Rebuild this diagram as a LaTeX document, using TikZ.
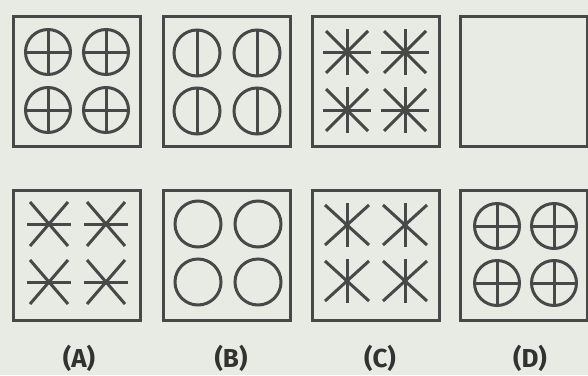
\documentclass[tikz,border=0pt]{standalone}
\usepackage{fontspec}
\newfontfamily\lblfont{Fira Sans}[UprightFont=*-Bold]
\definecolor{bg}{RGB}{232,235,228}
\definecolor{ink}{RGB}{72,72,72}
\definecolor{txt}{RGB}{50,50,50}
\begin{document}
\begin{tikzpicture}[x=1pt,y=-1pt,
  panel/.style={draw=ink,line width=3pt},
  stroke/.style={draw=ink,line width=3pt},
  lbl/.style={text=txt,font=\lblfont\fontsize{26}{30}\selectfont,inner sep=0pt}]
\fill[bg] (0,0) rectangle (588,375);
\useasboundingbox (0,0) rectangle (588,375);
% panels
\foreach \n/\x/\y in {p1/13/16,p2/163/16,p3/312/16,p4/460/16,pa/13/190,pb/163/190,pc/312/190,pd/460/190}{
  \draw[panel] (\x,\y) rectangle ++(127,130);
}
% panel 1: circles with cross
\foreach \cx/\cy in {48/52,106/52,48/110,106/110}{
  \draw[stroke] (\cx,\cy) circle (22.5);
  \draw[stroke] (\cx-22.5,\cy) -- (\cx+22.5,\cy);
  \draw[stroke] (\cx,\cy-22.5) -- (\cx,\cy+22.5);
}
% panel 2: circles with vertical line
\foreach \cx/\cy in {197/53,257/53,197/111,257/111}{
  \draw[stroke] (\cx,\cy) circle (23);
  \draw[stroke] (\cx,\cy-23) -- (\cx,\cy+23);
}
% panel 3: eight-spoke stars
\foreach \cx/\cy in {347/52,405/52,347/110,405/110}{
  \draw[stroke] (\cx-24,\cy) -- (\cx+24,\cy);
  \draw[stroke] (\cx,\cy-23) -- (\cx,\cy+23);
  \draw[stroke] (\cx-21,\cy-21) -- (\cx+21,\cy+21);
  \draw[stroke] (\cx-21,\cy+21) -- (\cx+21,\cy-21);
}
% panel A: horizontal + X
\foreach \cx/\cy in {49/224,106/224,49/282,106/282}{
  \draw[stroke] (\cx-22,\cy) -- (\cx+22,\cy);
  \draw[stroke] (\cx-19,\cy-22) -- (\cx+19,\cy+22);
  \draw[stroke] (\cx-19,\cy+22) -- (\cx+19,\cy-22);
}
% panel B: plain circles
\foreach \cx/\cy in {198/224,258/224,198/282,258/282}{
  \draw[stroke] (\cx,\cy) circle (23);
}
% panel C: vertical + X
\foreach \cx/\cy in {347/225,405/225,347/281,405/281}{
  \draw[stroke] (\cx,\cy-22) -- (\cx,\cy+22);
  \draw[stroke] (\cx-22,\cy-20) -- (\cx+22,\cy+20);
  \draw[stroke] (\cx-22,\cy+20) -- (\cx+22,\cy-20);
}
% panel D: circles with cross
\foreach \cx/\cy in {497/226,554/226,497/283,554/283}{
  \draw[stroke] (\cx,\cy) circle (22.5);
  \draw[stroke] (\cx-22.5,\cy) -- (\cx+22.5,\cy);
  \draw[stroke] (\cx,\cy-22.5) -- (\cx,\cy+22.5);
}
% labels
\node[lbl] (la) at (79,358) {(A)};
\node[lbl] (lb) at (231,358) {(B)};
\node[lbl] (lc) at (380,358) {(C)};
\node[lbl] (ld) at (530,358) {(D)};
\end{tikzpicture}
\end{document}
